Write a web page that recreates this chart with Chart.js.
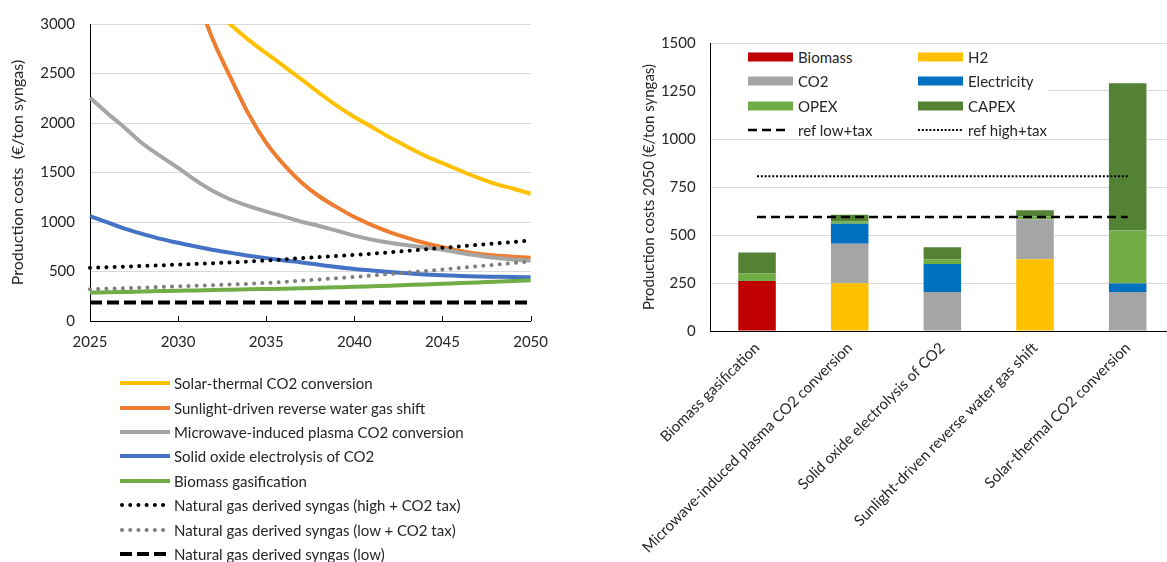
<!DOCTYPE html>
<html>
<head>
<meta charset="utf-8">
<script src="https://cdn.jsdelivr.net/npm/chart.js@4.4.0/dist/chart.umd.min.js"></script>
<style>
  body { margin: 0; background: #fff; overflow: hidden; width: 1167px; height: 562px; position: relative; font-family: Lato, sans-serif; color: #262626; }
  #boxLeft { position: absolute; left: 0; top: 0; width: 560px; height: 362px; }
  #boxRight { position: absolute; left: 620px; top: 0; width: 580px; height: 562px; }
  #legendLeft { position: absolute; left: 120px; top: 371px; }
  #legendLeft .row { height: 24.4px; display: flex; align-items: center; font-size: 15px; white-space: nowrap; }
  #legendLeft canvas { margin-right: 4px; }
  #legendRight { position: absolute; left: 712px; top: 45px; width: 336px; height: 92px; background: #fff; }
  #legendRight .item { position: absolute; display: flex; align-items: center; font-size: 15px; height: 20px; white-space: nowrap; }
  #legendRight canvas { margin-right: 5px; }
</style>
</head>
<body>
<div id="boxLeft"><canvas id="lineChart"></canvas></div>
<div id="boxRight"><canvas id="barChart"></canvas></div>
<div id="legendLeft"></div>
<div id="legendRight"></div>
<script>
// ---- datos del gráfico de líneas (€/ton syngas) ----
const years = [2025, 2026, 2027, 2028, 2029, 2030, 2031, 2032, 2033, 2034, 2035, 2036, 2037,
               2038, 2039, 2040, 2041, 2042, 2043, 2044, 2045, 2046, 2047, 2048, 2049, 2050];
const solarThermal = [null, null, null, null, null, null, null, 3160, 2990, 2840, 2705, 2575, 2440,
                      2305, 2175, 2060, 1960, 1855, 1760, 1670, 1595, 1520, 1448, 1385, 1338, 1285];
const sunlightRwgs = [null, null, null, null, null, null, 3300, 2830, 2450, 2090, 1800, 1580, 1400,
                      1260, 1150, 1050, 968, 898, 840, 788, 745, 708, 680, 662, 650, 638];
const plasma = [2254, 2097, 1947, 1790, 1665, 1546, 1420, 1310, 1225, 1160, 1105, 1055, 1003,
                960, 912, 862, 822, 790, 765, 742, 720, 690, 662, 638, 622, 611];
const soec = [1060, 995, 930, 878, 830, 790, 752, 718, 688, 660, 635, 612, 592,
              568, 545, 525, 510, 495, 482, 470, 461, 455, 450, 447, 444, 442];
const biomassGas = [287, 290, 294, 298, 302, 306, 309, 313, 316, 320, 323, 326, 330,
                    335, 340, 345, 351, 357, 363, 369, 376, 383, 390, 397, 404, 412];
const ngHighTax = [538, 543, 549, 556, 563, 570, 577, 584, 592, 601, 611, 622, 635,
                   645, 656, 668, 680, 694, 708, 723, 739, 754, 769, 784, 798, 812];
const ngLowTax = [321, 326, 332, 338, 344, 350, 356, 362, 369, 376, 385, 395, 408,
                  420, 432, 445, 460, 475, 490, 505, 520, 536, 552, 568, 585, 601];
const ngLow = [187, 187, 187, 187, 187, 187, 187, 187, 187, 187, 187, 187, 187,
               187, 187, 187, 187, 187, 187, 187, 187, 187, 187, 187, 187, 187];

const lineNames = ['Solar-thermal CO2 conversion', 'Sunlight-driven reverse water gas shift',
  'Microwave-induced plasma CO2 conversion', 'Solid oxide electrolysis of CO2', 'Biomass gasification',
  'Natural gas derived syngas (high + CO2 tax)', 'Natural gas derived syngas (low + CO2 tax)',
  'Natural gas derived syngas (low)'];
const yTicksLeft = [0, 500, 1000, 1500, 2000, 2500, 3000];

// ---- datos del gráfico de barras 2050 ----
const routes = ['Biomass gasification', 'Microwave-induced plasma CO2 conversion',
  'Solid oxide electrolysis of CO2', 'Sunlight-driven reverse water gas shift', 'Solar-thermal CO2 conversion'];
const costBiomass = [261, 0, 0, 0, 0];
const costH2 = [0, 249, 0, 374, 0];
const costCO2 = [0, 205, 203, 208, 203];
const costElectricity = [0, 104, 146, 0, 45];
const costOpex = [38, 14, 25, 14, 275];
const costCapex = [110, 33, 62, 33, 768];
const refLowTax = [594, 594, 594, 594, 594];
const refHighTax = [806, 806, 806, 806, 806];
const yTicksRight = [0, 250, 500, 750, 1000, 1250, 1500];

const FONT = 'Lato';
const TXT = '#262626';
const GRID = '#d9d9d9';

// estilos de cada serie de líneas
const lineStyles = [
  { color: '#ffc000', width: 4, dash: [], cap: 'butt' },
  { color: '#ed7d31', width: 4, dash: [], cap: 'butt' },
  { color: '#a5a5a5', width: 4, dash: [], cap: 'butt' },
  { color: '#4472c4', width: 4, dash: [], cap: 'butt' },
  { color: '#70ad47', width: 4, dash: [], cap: 'butt' },
  { color: '#000000', width: 4, dash: [0.01, 8.2], cap: 'round' },
  { color: '#7f7f7f', width: 4, dash: [0.01, 8.2], cap: 'round' },
  { color: '#000000', width: 4, dash: [12, 5], cap: 'butt' }
];
const lineSeries = [solarThermal, sunlightRwgs, plasma, soec, biomassGas, ngHighTax, ngLowTax, ngLow];

function toPoints(values) {
  return years.map((yr, i) => ({ x: yr, y: values[i] }));
}

// marcas del eje X hacia dentro, como en el original
const innerTicks = {
  id: 'innerTicks',
  afterDatasetsDraw(chart) {
    const xs = chart.scales.x;
    const ctx = chart.ctx;
    ctx.save();
    ctx.strokeStyle = '#000';
    ctx.lineWidth = 1;
    xs.ticks.forEach(t => {
      const px = Math.round(xs.getPixelForValue(t.value)) + 0.5;
      ctx.beginPath();
      ctx.moveTo(px, xs.top);
      ctx.lineTo(px, xs.top - 5);
      ctx.stroke();
    });
    ctx.restore();
  }
};

new Chart(document.getElementById('lineChart'), {
  type: 'line',
  data: {
    datasets: lineSeries.map((vals, i) => ({
      label: lineNames[i],
      data: toPoints(vals),
      borderColor: lineStyles[i].color,
      backgroundColor: lineStyles[i].color,
      borderWidth: lineStyles[i].width,
      borderDash: lineStyles[i].dash,
      borderCapStyle: lineStyles[i].cap,
      pointRadius: 0,
      cubicInterpolationMode: 'monotone',
      clip: { left: 2, right: 2, top: 0, bottom: 2 },
      order: 8 - i
    }))
  },
  options: {
    responsive: true,
    maintainAspectRatio: false,
    animation: false,
    layout: { padding: { top: 22, right: 24, left: 0, bottom: 0 } },
    plugins: { legend: { display: false }, tooltip: { enabled: false } },
    scales: {
      x: {
        type: 'linear', min: 2025, max: 2050,
        afterBuildTicks: s => { s.ticks = years.filter(y => y % 5 === 0).map(v => ({ value: v })); },
        afterFit: s => { s.height = 41; },
        grid: { drawOnChartArea: false, drawTicks: false },
        border: { color: '#000', width: 1 },
        ticks: { padding: 12, color: TXT, font: { family: FONT, size: 15 }, maxRotation: 0, callback: v => String(v) }
      },
      y: {
        min: 0, max: 3000,
        afterBuildTicks: s => { s.ticks = yTicksLeft.map(v => ({ value: v })); },
        afterFit: s => { s.width = 90; },
        grid: { color: GRID, lineWidth: 1, drawTicks: false },
        border: { color: '#000', width: 1 },
        ticks: { padding: 15, color: TXT, font: { family: FONT, size: 15 }, callback: v => String(v) },
        title: { display: true, text: 'Production costs  (€/ton syngas)', color: TXT,
                 font: { family: FONT, size: 16 }, padding: { top: 8, bottom: 0 } }
      }
    }
  },
  plugins: [innerTicks]
});

// leyenda en columna bajo el gráfico de líneas
const legLeft = document.getElementById('legendLeft');
lineNames.forEach((name, i) => {
  const row = document.createElement('div');
  row.className = 'row';
  const c = document.createElement('canvas');
  c.width = 50; c.height = 12;
  const g = c.getContext('2d');
  const st = lineStyles[i];
  g.strokeStyle = st.color; g.lineWidth = st.width; g.lineCap = st.cap;
  g.setLineDash(st.dash);
  g.beginPath(); g.moveTo(st.cap === 'round' ? 2 : 0, 6); g.lineTo(50, 6); g.stroke();
  row.appendChild(c);
  const span = document.createElement('span');
  span.textContent = name;
  row.appendChild(span);
  legLeft.appendChild(row);
});

// ---- gráfico de barras apiladas ----
const barParts = [
  { label: 'Biomass', data: costBiomass, color: '#c00000' },
  { label: 'H2', data: costH2, color: '#ffc000' },
  { label: 'CO2', data: costCO2, color: '#a5a5a5' },
  { label: 'Electricity', data: costElectricity, color: '#0070c0' },
  { label: 'OPEX', data: costOpex, color: '#70ad47' },
  { label: 'CAPEX', data: costCapex, color: '#548235' }
];
const refLines = [
  { label: 'ref low+tax', data: refLowTax, dash: [9, 5], width: 2.5 },
  { label: 'ref high+tax', data: refHighTax, dash: [2, 1.8], width: 2 }
];

new Chart(document.getElementById('barChart'), {
  type: 'bar',
  data: {
    labels: routes,
    datasets: [
      ...barParts.map(p => ({
        type: 'bar', label: p.label, data: p.data, backgroundColor: p.color,
        borderWidth: 0, barPercentage: 0.405, categoryPercentage: 1, order: 1
      })),
      ...refLines.map((r, i) => ({
        type: 'line', label: r.label, data: r.data, borderColor: '#000', borderWidth: r.width,
        borderDash: r.dash, pointRadius: 0, fill: false, stack: 'ref' + i, order: 0
      }))
    ]
  },
  options: {
    responsive: true,
    maintainAspectRatio: false,
    animation: false,
    layout: { padding: { top: 43, right: 26, left: 0, bottom: 0 } },
    plugins: { legend: { display: false }, tooltip: { enabled: false } },
    scales: {
      x: {
        stacked: true,
        afterFit: s => { s.height = 231; },
        grid: { display: true, drawOnChartArea: false, drawTicks: false },
        border: { color: '#000', width: 1 },
        ticks: { padding: 8, color: TXT, font: { family: FONT, size: 15 }, minRotation: 45, maxRotation: 45, autoSkip: false }
      },
      y: {
        stacked: true, min: 0, max: 1500,
        afterBuildTicks: s => { s.ticks = yTicksRight.map(v => ({ value: v })); },
        afterFit: s => { s.width = 90.7; },
        grid: { color: GRID, lineWidth: 1, drawTicks: false },
        border: { color: '#000', width: 1 },
        ticks: { padding: 15, color: TXT, font: { family: FONT, size: 15 }, callback: v => String(v) },
        title: { display: true, text: 'Production costs 2050 (€/ton syngas)', color: TXT,
                 font: { family: FONT, size: 15 }, padding: { top: 20, bottom: 0 } }
      }
    }
  }
});

// leyenda dentro del área del gráfico de barras (dos columnas)
const legRight = document.getElementById('legendRight');
const legItems = barParts.map(p => ({ label: p.label, color: p.color }))
  .concat(refLines.map(r => ({ label: r.label, dash: r.dash, width: r.width })));
legItems.forEach((it, i) => {
  const col = i % 2, row = Math.floor(i / 2);
  const d = document.createElement('div');
  d.className = 'item';
  d.style.left = (col === 0 ? 36 : 206) + 'px';
  d.style.top = (2 + row * 24.3) + 'px';
  const c = document.createElement('canvas');
  c.width = 45; c.height = 10;
  const g = c.getContext('2d');
  if (it.color) {
    g.fillStyle = it.color; g.fillRect(0, 0.5, 45, 9);
  } else {
    g.strokeStyle = '#000'; g.lineWidth = it.width; g.setLineDash(it.dash);
    g.beginPath(); g.moveTo(0, 5); g.lineTo(it.width > 2.2 ? 40 : 45, 5); g.stroke();
  }
  d.appendChild(c);
  const span = document.createElement('span');
  span.textContent = it.label;
  d.appendChild(span);
  legRight.appendChild(d);
});
</script>
</body>
</html>
